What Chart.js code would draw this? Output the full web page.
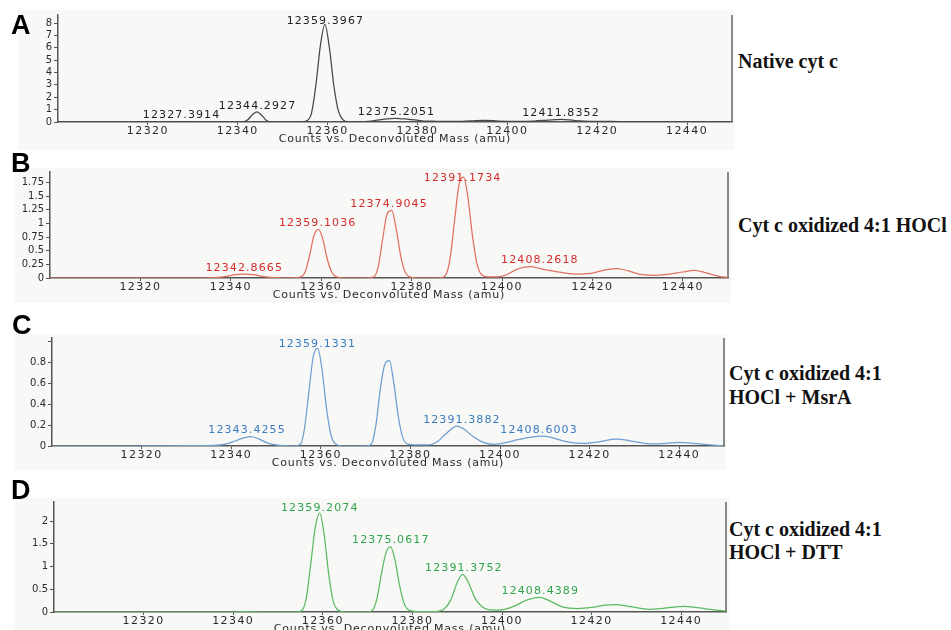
<!DOCTYPE html>
<html>
<head>
<meta charset="utf-8">
<script src="https://cdn.jsdelivr.net/npm/chart.js@4.4.1/dist/chart.umd.min.js"></script>
<style>
  html, body { margin: 0; padding: 0; background: #fff; overflow: hidden; }
  body { width: 951px; height: 630px; position: relative; }
  canvas { position: absolute; z-index: 1; }
  .letter { position: absolute; z-index: 2; font: bold 27px "Liberation Sans", Arial, sans-serif; line-height: 27px; color: #000; }
  .caption { position: absolute; z-index: 2; font: bold 20px "Liberation Serif", "Times New Roman", serif; line-height: 24px; color: #111; white-space: nowrap; }
</style>
</head>
<body>
<canvas id="chartA"></canvas>
<canvas id="chartB"></canvas>
<canvas id="chartC"></canvas>
<canvas id="chartD"></canvas>

<div class="letter" style="left:11px;top:12px">A</div>
<div class="letter" style="left:11px;top:150px">B</div>
<div class="letter" style="left:12px;top:312px">C</div>
<div class="letter" style="left:11px;top:477px">D</div>

<div class="caption" style="left:738px;top:49px">Native cyt c</div>
<div class="caption" style="left:738px;top:213px">Cyt c oxidized 4:1 HOCl</div>
<div class="caption" style="left:729px;top:361px">Cyt c oxidized 4:1<br>HOCl + MsrA</div>
<div class="caption" style="left:729px;top:518px;line-height:23px">Cyt c oxidized 4:1<br>HOCl + DTT</div>

<script>
// --- data (mass in amu, counts as printed on the y axis) ---
const MASS_A = [12300, 12310, 12320, 12324, 12327.4, 12331, 12338, 12341.3, 12342.3, 12343.3, 12344.3, 12345.3, 12346.3, 12347.3,
  12350, 12354, 12355.4, 12356.4, 12357.4, 12358.4, 12359.4, 12360.4, 12361.4, 12362.4, 12363.4, 12364.4, 12366,
  12369, 12372, 12375, 12378, 12381, 12384, 12388, 12392, 12395, 12398, 12402, 12406, 12409, 12412, 12415, 12419,
  12425, 12432, 12440, 12450];
const COUNTS_A = [0, 0, 0, 0, 0.03, 0, 0, 0.02, 0.2, 0.6, 0.82, 0.55, 0.15, 0.02,
  0, 0, 0.1, 0.7, 3.0, 6.2, 7.9, 6.0, 2.9, 0.9, 0.2, 0.03, 0,
  0.05, 0.2, 0.3, 0.22, 0.1, 0.06, 0.05, 0.1, 0.14, 0.08, 0.05, 0.08, 0.16, 0.22, 0.12, 0.05,
  0.04, 0.03, 0.02, 0.01];
const PEAKS_A = ['12327.3914', '12344.2927', '12359.3967', '12375.2051', '12411.8352'];

const MASS_B = [12300, 12320, 12334, 12337, 12339, 12341, 12343, 12345, 12347, 12349, 12352, 12355,
  12356.4, 12357.4, 12358.4, 12359.4, 12360.4, 12361.4, 12362.4, 12363.4, 12365, 12370,
  12371.6, 12372.6, 12373.6, 12374.6, 12375.6, 12376.6, 12377.6, 12378.6, 12379.6, 12381, 12386,
  12387.5, 12388.5, 12389.5, 12390.5, 12391.5, 12392.5, 12393.5, 12394.5, 12395.5, 12397, 12399,
  12401, 12403, 12405, 12406.5, 12408, 12411, 12414, 12417, 12420, 12423, 12425.5, 12428, 12431,
  12434, 12437, 12440, 12442.5, 12445, 12448, 12450];
const COUNTS_B = [0, 0, 0, 0.01, 0.03, 0.06, 0.07, 0.06, 0.03, 0.01, 0, 0.01,
  0.1, 0.4, 0.78, 0.89, 0.7, 0.33, 0.1, 0.02, 0, 0,
  0.02, 0.2, 0.72, 1.18, 1.24, 0.9, 0.4, 0.1, 0.02, 0, 0,
  0.05, 0.35, 1.05, 1.72, 1.85, 1.45, 0.75, 0.25, 0.06, 0.02, 0.02,
  0.06, 0.15, 0.2, 0.21, 0.18, 0.13, 0.09, 0.07, 0.09, 0.15, 0.17, 0.13, 0.06,
  0.05, 0.07, 0.11, 0.14, 0.1, 0.03, 0.01];
const PEAKS_B = ['12342.8665', '12359.1036', '12374.9045', '12391.1734', '12408.2618'];

const MASS_C = [12300, 12320, 12330, 12336, 12339, 12341, 12343, 12344.5, 12346, 12348, 12350, 12354,
  12355.5, 12356.3, 12357.3, 12358.3, 12359.3, 12360.3, 12361.3, 12362.3, 12363.3, 12365, 12370,
  12371.3, 12372.3, 12373.3, 12374.3, 12375.3, 12376.3, 12377.3, 12378.3, 12379.3, 12381, 12384,
  12386, 12388, 12390.4, 12392, 12394, 12396, 12398.4, 12401, 12404, 12407, 12409.6, 12412, 12415,
  12418.6, 12422, 12426, 12429, 12433.6, 12437, 12440, 12443, 12447, 12450];
const COUNTS_C = [0, 0, 0.003, 0.005, 0.02, 0.05, 0.08, 0.09, 0.07, 0.03, 0.01, 0,
  0.02, 0.15, 0.5, 0.85, 0.93, 0.72, 0.35, 0.1, 0.02, 0, 0,
  0.02, 0.2, 0.55, 0.78, 0.815, 0.6, 0.28, 0.08, 0.02, 0.01, 0.01,
  0.04, 0.12, 0.19, 0.16, 0.09, 0.04, 0.016, 0.03, 0.06, 0.085, 0.095, 0.075, 0.04,
  0.025, 0.04, 0.065, 0.05, 0.02, 0.025, 0.035, 0.025, 0.01, 0];
const PEAKS_C = ['12343.4255', '12359.1331', '12391.3882', '12408.6003'];

const MASS_D = [12300, 12320, 12338, 12343, 12348, 12354,
  12355.3, 12356.3, 12357.3, 12358.3, 12359.3, 12360.3, 12361.3, 12362.3, 12363.3, 12365, 12370,
  12371.1, 12372.1, 12373.1, 12374.1, 12375.1, 12376.1, 12377.1, 12378.1, 12379.1, 12381, 12385,
  12387, 12388.5, 12390, 12391.2, 12392.5, 12394, 12395.5, 12397, 12399,
  12401, 12403, 12405.5, 12408.4, 12410.5, 12413, 12415, 12417, 12420, 12423, 12425.5, 12428,
  12431, 12433, 12436, 12440.5, 12444, 12447, 12450];
const COUNTS_D = [0, 0, 0, 0.01, 0, 0,
  0.03, 0.3, 1.05, 1.85, 2.18, 1.7, 0.85, 0.25, 0.05, 0, 0,
  0.04, 0.3, 0.85, 1.3, 1.44, 1.15, 0.6, 0.2, 0.05, 0.01, 0.01,
  0.06, 0.25, 0.65, 0.83, 0.65, 0.3, 0.12, 0.05, 0.04,
  0.07, 0.14, 0.26, 0.32, 0.25, 0.13, 0.085, 0.075, 0.1, 0.15, 0.16, 0.13,
  0.08, 0.06, 0.08, 0.125, 0.09, 0.05, 0.02];
const PEAKS_D = ['12359.2074', '12375.0617', '12391.3752', '12408.4389'];

const X_TICKS = [12320, 12340, 12360, 12380, 12400, 12420, 12440];
const X_TITLE = 'Counts vs. Deconvoluted Mass (amu)';

const AXIS_COLOR = '#555';
const TEXT_COLOR = '#2a2a2a';
const TICK_GAP = 9.5;     // x tick label centre below the axis
const TITLE_GAP = 17;     // x title centre below the axis

// page layout of each panel (canvas box and plot area, page px)
const PANELS = [
  { id: 'chartA', mass: MASS_A, counts: COUNTS_A, peaks: PEAKS_A, line: '#474747', label: '#222',
    yMax: 8.65, yStep: 1, box: { left: 18, top: 10, width: 717, height: 140 },
    plot: { left: 58, right: 732, top: 15, bottom: 122 } },
  { id: 'chartB', mass: MASS_B, counts: COUNTS_B, peaks: PEAKS_B, line: '#e0705f', label: '#d52b2b',
    yMax: 1.945, yStep: 0.25, box: { left: 15, top: 168, width: 716, height: 135 },
    plot: { left: 50, right: 728, top: 172, bottom: 278 } },
  { id: 'chartC', mass: MASS_C, counts: COUNTS_C, peaks: PEAKS_C, line: '#6e9fd0', label: '#3a7cc0',
    yMax: 1.03, yStep: 0.2, hideTop: 1, box: { left: 15, top: 334, width: 711, height: 136 },
    plot: { left: 52, right: 724, top: 338, bottom: 446 } },
  { id: 'chartD', mass: MASS_D, counts: COUNTS_D, peaks: PEAKS_D, line: '#5cba62', label: '#2fa64e',
    yMax: 2.42, yStep: 0.5, box: { left: 15, top: 498, width: 714, height: 142 },
    plot: { left: 54, right: 726, top: 502, bottom: 612 } }
];

const panelBackground = {
    id: 'panelBackground',
    beforeDraw(chart) {
        const ctx = chart.ctx;
        ctx.save();
        ctx.fillStyle = '#f8f8f6';
        ctx.fillRect(0, 0, chart.width, chart.height);
        ctx.restore();
    }
};

// right-hand frame line of the plot
const plotFrame = {
    id: 'plotFrame',
    afterDraw(chart) {
        const { ctx, chartArea } = chart;
        ctx.save();
        ctx.strokeStyle = '#666';
        ctx.lineWidth = 1.5;
        ctx.beginPath();
        ctx.moveTo(chartArea.right, chartArea.top);
        ctx.lineTo(chartArea.right, chartArea.bottom);
        ctx.stroke();
        ctx.restore();
    }
};

// the x axis text of the original is wide, so space the letters out
const spacedAxisText = {
    id: 'spacedAxisText',
    beforeDraw(chart) {
        const scale = chart.scales.x;
        if (scale.$spaced) return;
        scale.$spaced = true;
        const ctx = chart.ctx;
        const drawLabels = scale.drawLabels.bind(scale);
        const drawTitle = scale.drawTitle.bind(scale);
        scale.drawLabels = (area) => { ctx.letterSpacing = '1.4px'; drawLabels(area); ctx.letterSpacing = '0px'; };
        scale.drawTitle = () => { ctx.letterSpacing = '0.8px'; drawTitle(); ctx.letterSpacing = '0px'; };
    }
};

// mass labels written above each annotated peak
const peakLabels = {
    id: 'peakLabels',
    afterDatasetsDraw(chart, args, opts) {
        const { ctx, chartArea, scales } = chart;
        const points = chart.data.datasets[0].data;
        ctx.save();
        ctx.font = '11px "DejaVu Sans"';
        ctx.letterSpacing = '1.1px';
        ctx.fillStyle = opts.color;
        ctx.textAlign = 'center';
        ctx.textBaseline = 'middle';
        opts.peaks.forEach(text => {
            const mass = parseFloat(text);
            const near = points.filter(p => Math.abs(p.x - mass) <= 2.5).map(p => p.y);
            const top = near.length ? Math.max(...near) : 0;
            const x = scales.x.getPixelForValue(mass);
            const y = Math.max(scales.y.getPixelForValue(top) - 6, chartArea.top + 6.5);
            ctx.fillText(text, x + 0.5, y);
        });
        ctx.restore();
    }
};

function initPanel(p) {
    const canvas = document.getElementById(p.id);
    canvas.width = p.box.width;
    canvas.height = p.box.height;
    canvas.style.left = p.box.left + 'px';
    canvas.style.top = p.box.top + 'px';

    const yWidth = p.plot.left - p.box.left;
    const xHeight = p.box.top + p.box.height - p.plot.bottom;
    const titlePad = p.box.top + p.box.height - (p.plot.bottom + TITLE_GAP) - 6.6;

    new Chart(canvas, {
        type: 'line',
        data: {
            datasets: [{
                data: p.mass.map((m, i) => ({ x: m, y: p.counts[i] })),
                borderColor: p.line,
                borderWidth: 1.25,
                pointRadius: 0,
                cubicInterpolationMode: 'monotone',
                fill: false
            }]
        },
        options: {
            responsive: false,
            animation: false,
            devicePixelRatio: 1,
            layout: {
                padding: {
                    left: 0,
                    top: p.plot.top - p.box.top,
                    right: p.box.left + p.box.width - p.plot.right,
                    bottom: 0
                }
            },
            plugins: {
                legend: { display: false },
                tooltip: { enabled: false },
                peakLabels: { peaks: p.peaks, color: p.label }
            },
            scales: {
                x: {
                    type: 'linear',
                    min: 12300,
                    max: 12450,
                    afterBuildTicks: (s) => { s.ticks = X_TICKS.map(v => ({ value: v })); },
                    afterFit: (s) => { s.height = xHeight; s.paddingLeft = 0; s.paddingRight = 0; },
                    grid: { drawOnChartArea: false, tickLength: 3, color: AXIS_COLOR },
                    border: { color: AXIS_COLOR, width: 1.5 },
                    ticks: {
                        padding: TICK_GAP - 3 - 6.6,
                        color: TEXT_COLOR,
                        maxRotation: 0,
                        autoSkip: false,
                        font: { family: 'DejaVu Sans', size: 11 },
                        callback: (v) => String(v)
                    },
                    title: {
                        display: true,
                        text: X_TITLE,
                        color: TEXT_COLOR,
                        font: { family: 'DejaVu Sans', size: 11 },
                        padding: { top: 0, bottom: titlePad }
                    }
                },
                y: {
                    min: 0,
                    max: p.yMax,
                    afterFit: (s) => { s.width = yWidth; s.paddingTop = 0; s.paddingBottom = 0; },
                    grid: { drawOnChartArea: false, tickLength: 4, color: AXIS_COLOR },
                    border: { color: AXIS_COLOR, width: 1.5 },
                    ticks: {
                        stepSize: p.yStep,
                        includeBounds: false,
                        autoSkip: false,
                        padding: 2,
                        color: TEXT_COLOR,
                        font: { family: 'DejaVu Sans', size: 10 },
                        callback: (v) => (p.hideTop && Math.abs(v - p.hideTop) < 1e-6) ? '' : String(+v.toFixed(2))
                    }
                }
            }
        },
        plugins: [panelBackground, spacedAxisText, peakLabels, plotFrame]
    });
}

document.addEventListener('DOMContentLoaded', () => {
    PANELS.forEach(initPanel);
});
</script>
</body>
</html>
